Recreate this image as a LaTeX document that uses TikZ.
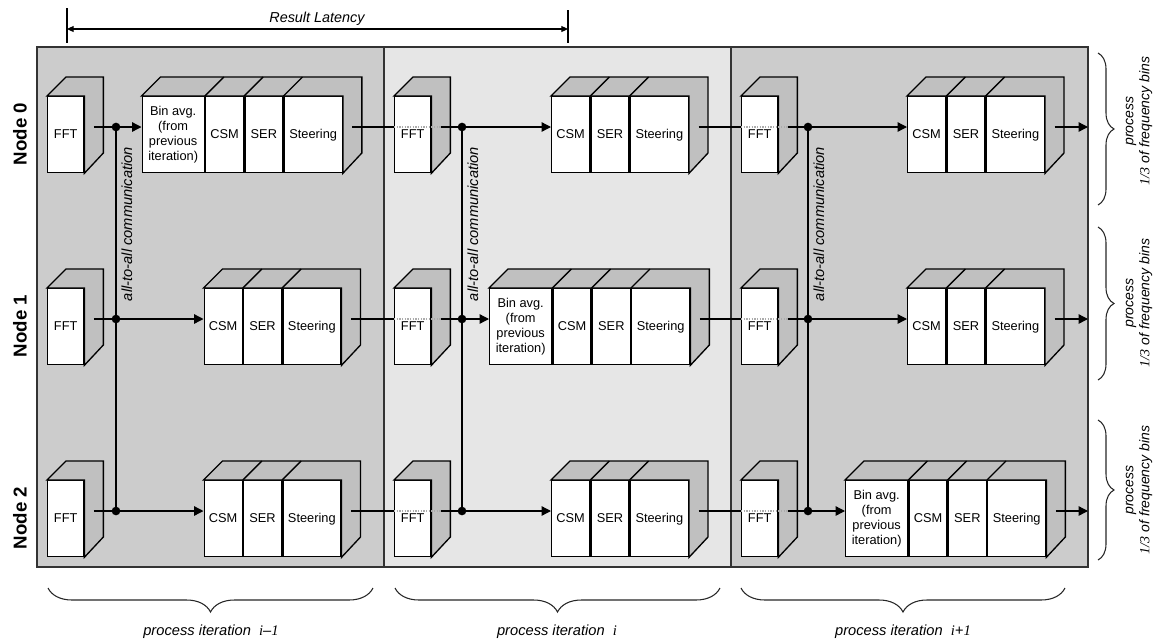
\documentclass[tikz,border=0pt]{standalone}
\usepackage{fontspec}
\setmainfont{Liberation Sans}
\newfontfamily\serifit{Liberation Serif}[ItalicFont=* Italic]
\usetikzlibrary{arrows.meta,decorations.pathreplacing,calc}

\definecolor{paneldark}{HTML}{CCCCCC}
\definecolor{panellight}{HTML}{E6E6E6}
\definecolor{facegray}{HTML}{C0C0C0}
\definecolor{framegray}{HTML}{333333}

\tikzset{
  front/.style={draw=black, fill=white, line width=1pt, minimum height=57pt,
    inner sep=0pt, anchor=north west, align=center,
    font=\fontsize{9.6}{11.25}\selectfont},
  oneline/.style={text height=7pt, text depth=2pt},
  face/.style={draw=black, fill=facegray, line width=1pt, line join=miter},
  edgeline/.style={draw=black, line width=1pt},
  frame/.style={draw=framegray, line width=1pt},
  conn/.style={line width=1pt, black},
  flow/.style={conn, -{Triangle[length=7pt,width=7pt]}},
  passthru/.style={line width=1pt, gray!65, densely dotted},
  junction/.style={circle, fill=black, inner sep=0pt, minimum size=6.5pt},
  nodelabel/.style={rotate=90, font=\fontsize{14}{16}\selectfont\bfseries},
  commlabel/.style={rotate=90, font=\fontsize{11}{13}\selectfont\itshape},
  latency/.style={line width=0.8pt, black, {Triangle[length=5pt,width=4.5pt]}-{Triangle[length=5pt,width=4.5pt]}},
  tick/.style={line width=0.8pt, black},
  iterbrace/.style={decorate, decoration={brace, amplitude=18pt}, line width=0.8pt, black!85},
  nodebrace/.style={decorate, decoration={brace, amplitude=12pt}, line width=0.8pt, black!85},
  itertext/.style={font=\fontsize{11}{13}\selectfont\itshape},
  bintext/.style={rotate=90, align=center, font=\fontsize{10.5}{12}\selectfont\itshape},
}

% top and side faces of a row of adjacent front faces
\newcommand\blockfaces[2]{%
  \draw[face] (#1.north west) -- ++(19,-19) -- ($(#2.north east)+(19,-19)$)
    -- ++(0,76) -- (#2.south east) -- (#2.north east) -- cycle;
}
\newcommand\topedge[1]{\draw[edgeline] (#1.north east) -- ++(19,-19);}

% single FFT cube: name, left x, top y
\newcommand\fftcube[3]{%
  \node[front, oneline, minimum width=27pt] (#1) at (#2,#3) {FFT};
  \blockfaces{#1}{#1}
  \coordinate (#1-in) at ($(#1.north west)+(0,31)$);
  \coordinate (#1-out) at ($(#1.north east)+(9.5,31)$);
}

% CSM | SER | Steering stages
\newcommand\plainblock[3]{%
  \node[front, oneline, minimum width=28.5pt] (#1-csm) at (#2,#3) {CSM};
  \node[front, oneline, minimum width=28.5pt] (#1-ser) at (#1-csm.north east) {SER};
  \node[front, oneline, minimum width=43.5pt] (#1-steer) at (#1-ser.north east) {Steering};
  \blockfaces{#1-csm}{#1-steer}
  \topedge{#1-csm}\topedge{#1-ser}
  \coordinate (#1-in) at ($(#1-csm.north west)+(0,31)$);
  \coordinate (#1-out) at ($(#1-steer.north east)+(9.5,31)$);
}

% Bin avg. | CSM | SER | Steering stages
\newcommand\binblock[3]{%
  \node[front, minimum width=46.5pt] (#1-bin) at (#2,#3) {Bin avg.\\(from\\previous\\iteration)};
  \node[front, oneline, minimum width=28.5pt] (#1-csm) at (#1-bin.north east) {CSM};
  \node[front, oneline, minimum width=28.5pt] (#1-ser) at (#1-csm.north east) {SER};
  \node[front, oneline, minimum width=43.5pt] (#1-steer) at (#1-ser.north east) {Steering};
  \blockfaces{#1-bin}{#1-steer}
  \topedge{#1-bin}\topedge{#1-csm}\topedge{#1-ser}
  \coordinate (#1-in) at ($(#1-bin.north west)+(0,31)$);
  \coordinate (#1-out) at ($(#1-steer.north east)+(9.5,31)$);
}

\begin{document}
\begin{tikzpicture}[x=0.75pt,y=-0.75pt]
\useasboundingbox (0,0) rectangle (1154,640);

% iteration panels
\fill[paneldark] (37,47) rectangle (384,567);
\fill[panellight] (384,47) rectangle (731,567);
\fill[paneldark] (731,47) rectangle (1088,567);
\draw[frame] (37,47) rectangle (1088,567);
\draw[frame] (384,47) -- (384,567);
\draw[frame] (731,47) -- (731,567);

% result latency span
\coordinate (latL) at (67,29);
\coordinate (latR) at (568,29);
\coordinate (latLt) at (67,8);
\coordinate (latLb) at (67,43);
\coordinate (latRt) at (568,10);
\coordinate (latRb) at (568,43);
\draw[tick] (latLt) -- (latLb);
\draw[tick] (latRt) -- (latRb);
\draw[latency] (latL) -- (latR);
\node[font=\fontsize{10.8}{13}\selectfont\itshape] (latText) at (317,19) {Result Latency};

% row labels
\node[nodelabel] (row0) at (20,134) {Node 0};
\node[nodelabel] (row1) at (20,326) {Node 1};
\node[nodelabel] (row2) at (20,518) {Node 2};

% FFT cubes
\foreach \p/\x in {A/47,B/394,C/741}
  \foreach \r/\y in {0/96,1/288,2/480}
    {\fftcube{fft\p\r}{\x}{\y}}

% processing stages
\binblock{bA0}{141.5}{96}
\plainblock{bA1}{203.5}{288}
\plainblock{bA2}{203.5}{480}
\plainblock{bB0}{551}{96}
\binblock{bB1}{489}{288}
\plainblock{bB2}{551}{480}
\plainblock{bC0}{907}{96}
\plainblock{bC1}{907}{288}
\binblock{bC2}{845}{480}

% junctions of the all-to-all exchange
\foreach \p/\jx in {A/116,B/462,C/808}
  \foreach \r/\ly in {0/127,1/319,2/511}
    {\coordinate (j\p\r) at (\jx,\ly);}

\foreach \p in {A,B,C}{
  \draw[conn] (j\p0) -- (j\p2);
  \foreach \r in {0,1,2}{
    \draw[conn] (fft\p\r-out) -- (j\p\r);
    \draw[flow] (j\p\r) -- (b\p\r-in);
  }
}

% hand-over to the next iteration
\foreach \p/\q in {A/B,B/C}
  \foreach \r in {0,1,2}{
    \draw[conn] (b\p\r-out) -- (fft\q\r-in);
    \draw[passthru] (fft\q\r-in) -- (fft\q\r-out);
  }

\foreach \r/\ly in {0/127,1/319,2/511}{
  \coordinate (out\r) at (1088,\ly);
  \draw[flow] (bC\r-out) -- (out\r);
}

\foreach \p in {A,B,C}
  \foreach \r in {0,1,2}
    {\node[junction] (dot\p\r) at (j\p\r) {};}

% all-to-all labels
\node[commlabel] (commA) at (127,224) {all-to-all communication};
\node[commlabel] (commB) at (473,224) {all-to-all communication};
\node[commlabel] (commC) at (819,224) {all-to-all communication};

% frequency-bin braces
\coordinate (fb0t) at (1098,53);  \coordinate (fb0b) at (1098,205);
\coordinate (fb1t) at (1098,227); \coordinate (fb1b) at (1098,380);
\coordinate (fb2t) at (1098,420); \coordinate (fb2b) at (1098,560);
\draw[nodebrace] (fb0t) -- (fb0b);
\draw[nodebrace] (fb1t) -- (fb1b);
\draw[nodebrace] (fb2t) -- (fb2b);
\node[bintext] (bins0) at (1139,121) {process\\{\serifit\itshape 1/3} of frequency bins};
\node[bintext] (bins1) at (1139,303) {process\\{\serifit\itshape 1/3} of frequency bins};
\node[bintext] (bins2) at (1139,490) {process\\{\serifit\itshape 1/3} of frequency bins};

% iteration braces
\coordinate (it0r) at (373,588); \coordinate (it0l) at (48,588);
\coordinate (it1r) at (720,588); \coordinate (it1l) at (395,588);
\coordinate (it2r) at (1065,588); \coordinate (it2l) at (741,588);
\draw[iterbrace] (it0r) -- (it0l);
\draw[iterbrace] (it1r) -- (it1l);
\draw[iterbrace] (it2r) -- (it2l);
\node[itertext] (iter0) at (211,632) {process iteration\ \ {\serifit\itshape i}–{\serifit\itshape 1}};
\node[itertext] (iter1) at (557,632) {process iteration\ \ {\serifit\itshape i}};
\node[itertext] (iter2) at (903,632) {process iteration\ \ {\serifit\itshape i}+{\serifit\itshape 1}};
\end{tikzpicture}
\end{document}
